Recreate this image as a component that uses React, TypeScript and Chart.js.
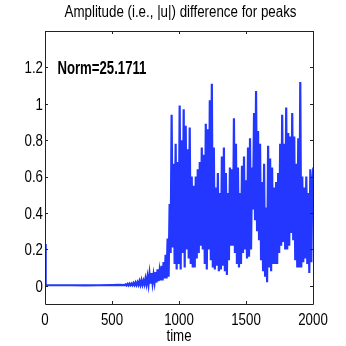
import React, { useEffect, useRef } from "react";
import { Chart, registerables } from "chart.js";

Chart.register(...registerables);

const TITLE = "Amplitude (i.e., |u|) difference for peaks";
const X_LABEL = "time";
const NORM_TEXT = "Norm=25.1711";
const NORM_AT = { x: 100, y: 1.2 };

const xTicks = [0, 500, 1000, 1500, 2000];
const yTicks = [0, 0.2, 0.4, 0.6, 0.8, 1, 1.2];
const xRange = [0, 2000];
const yRange = [-0.1, 1.4];

// quiet start of the run (time, value)
const leadTimes = [0, 5, 100, 200, 300, 400, 500, 550, 592.5];
const leadValues = [0.23, 0.003, 0.003, 0.003, 0.002, 0.003, 0.004, 0.005, 0.004];

// sampled part: starts at t = 600, every 7.5 time units
const sampleStart = 600;
const sampleStep = 7.5;
const sampleValues = [
  // 600 - 892.5 : slow growth
  0.008, 0.002, 0.01, 0.002, 0.012, 0.003, 0.012, 0.003, 0.015, 0.004,
  0.018, 0.004, 0.02, 0.005, 0.025, 0.005, 0.03, 0.006, 0.028, 0.008,
  0.04, 0.01, 0.05, 0.008, 0.065, 0.012, 0.07, 0.015, 0.06, 0.02,
  0.075, 0.018, 0.09, 0.025, 0.08, 0.03, 0.11, 0.03, 0.13, 0.04,
  // 900 onwards : strong oscillation
  0.17, 0.04, 0.26, 0.05, 0.45, 0.18, 0.94, 0.21, 0.67, 0.12,
  0.78, 0.09, 0.68, 0.12, 0.99, 0.09, 0.8, 0.18, 0.97, 0.1,
  0.88, 0.2, 0.75, 0.15, 0.87, 0.12, 0.6, 0.1, 0.55, 0.1,
  0.6, 0.15, 0.64, 0.18, 0.68, 0.22, 0.76, 0.2, 0.72, 0.12,
  0.89, 0.09, 0.86, 0.2, 1.02, 0.14, 1.11, 0.1, 0.76, 0.09,
  0.54, 0.11, 0.62, 0.08, 0.51, 0.09, 0.71, 0.11, 0.76, 0.08,
  0.62, 0.06, 0.51, 0.14, 0.65, 0.22, 0.64, 0.22, 0.92, 0.18,
  0.78, 0.12, 0.65, 0.1, 0.51, 0.12, 0.66, 0.18, 0.71, 0.2,
  0.58, 0.15, 0.76, 0.16, 0.81, 0.2, 0.65, 0.42, 0.95, 0.36,
  1.07, 0.3, 0.85, 0.25, 0.78, 0.14, 0.57, 0.08, 0.67, 0.05,
  0.43, 0.02, 0.77, 0.1, 0.7, 0.08, 0.65, 0.12, 0.54, 0.12,
  0.57, 0.12, 0.62, 0.18, 0.78, 0.22, 0.94, 0.24, 0.78, 0.2,
  0.98, 0.2, 0.84, 0.22, 0.82, 0.29, 0.95, 0.25, 0.82, 0.14,
  0.67, 0.1, 0.81, 0.1, 1.12, 0.1, 0.6, 0.13, 0.54, 0.15,
  0.6, 0.12, 0.51, 0.07, 0.64, 0.13, 0.57, 0.65,
];

const FONT = "'Liberation Sans', Arial, sans-serif";
const LINE_COLOR = "rgb(35, 55, 255)";
const NARROW = 0.83;

function narrowText(
  ctx: CanvasRenderingContext2D,
  text: string,
  x: number,
  y: number,
  align: CanvasTextAlign,
  baseline: CanvasTextBaseline,
  font: string,
  sx: number
) {
  ctx.save();
  ctx.font = font;
  ctx.textAlign = align;
  ctx.textBaseline = baseline;
  ctx.translate(x, y);
  ctx.scale(sx, 1);
  ctx.fillText(text, 0, 0);
  ctx.restore();
}

const boxPlugin = {
  id: "matlabBox",
  afterDraw(chart: any) {
    const { ctx, chartArea } = chart;
    const { left, right, top, bottom } = chartArea;
    const xs = chart.scales.x;
    const ys = chart.scales.y;
    ctx.save();
    ctx.strokeStyle = "#222";
    ctx.lineWidth = 1;
    ctx.beginPath();
    ctx.rect(Math.round(left) + 0.5, Math.round(top) + 0.5, Math.round(right - left), Math.round(bottom - top));
    const len = 3;
    xTicks.forEach((v) => {
      const px = Math.round(xs.getPixelForValue(v)) + 0.5;
      ctx.moveTo(px, bottom);
      ctx.lineTo(px, bottom - len);
      ctx.moveTo(px, top);
      ctx.lineTo(px, top + len);
    });
    yTicks.forEach((v) => {
      const py = Math.round(ys.getPixelForValue(v)) + 0.5;
      ctx.moveTo(left, py);
      ctx.lineTo(left + len, py);
      ctx.moveTo(right, py);
      ctx.lineTo(right - len, py);
    });
    ctx.stroke();
    ctx.fillStyle = "#000";

    const f16 = `16px ${FONT}`;
    xTicks.forEach((v) => {
      narrowText(ctx, String(v), xs.getPixelForValue(v), 325, "center", "alphabetic", f16, NARROW);
    });
    yTicks.forEach((v) => {
      narrowText(ctx, String(v), 43, ys.getPixelForValue(v) + 5.8, "right", "alphabetic", f16, NARROW);
    });

    // title, scaled to its measured width
    ctx.font = f16;
    const tw = ctx.measureText(TITLE).width;
    narrowText(ctx, TITLE, 180.5, 17, "center", "alphabetic", f16, 232 / tw);
    narrowText(ctx, X_LABEL, (left + right) / 2, 341, "center", "alphabetic", f16, NARROW);

    const fb = `bold 18px ${FONT}`;
    ctx.font = fb;
    const nw = ctx.measureText(NORM_TEXT).width;
    narrowText(
      ctx,
      NORM_TEXT,
      xs.getPixelForValue(NORM_AT.x) - 1,
      ys.getPixelForValue(NORM_AT.y) + 7,
      "left",
      "alphabetic",
      fb,
      89 / nw
    );
    ctx.restore();
  },
};

export default function App() {
  const ref = useRef<HTMLCanvasElement>(null);
  useEffect(() => {
    if (!ref.current) return;
    const points: { x: number; y: number }[] = [];
    leadTimes.forEach((t, i) => points.push({ x: t, y: leadValues[i] }));
    sampleValues.forEach((v, i) => points.push({ x: sampleStart + i * sampleStep, y: v }));
    const chart = new Chart(ref.current, {
      type: "line",
      data: {
        datasets: [
          {
            data: points,
            borderColor: LINE_COLOR,
            borderWidth: 2.2,
            pointRadius: 0,
            fill: false,
            tension: 0,
          },
        ],
      },
      options: {
        responsive: false,
        animation: false,
        devicePixelRatio: 1,
        parsing: false as any,
        layout: { padding: { left: 0, right: 33, top: 31, bottom: 0 } },
        plugins: {
          legend: { display: false },
          tooltip: { enabled: false },
          title: { display: false },
        },
        scales: {
          x: {
            type: "linear",
            min: xRange[0],
            max: xRange[1],
            grid: { display: false, drawTicks: false },
            border: { display: false },
            ticks: { display: false },
            afterFit: (s: any) => {
              s.height = 42;
            },
          },
          y: {
            type: "linear",
            min: yRange[0],
            max: yRange[1],
            grid: { display: false, drawTicks: false },
            border: { display: false },
            ticks: { display: false },
            afterFit: (s: any) => {
              s.width = 45;
            },
          },
        },
      },
      plugins: [boxPlugin],
    });
    return () => chart.destroy();
  }, []);
  return (
    <div style={{ position: "absolute", left: 0, top: 0, width: 346, height: 346, background: "#fff" }}>
      <canvas ref={ref} width={346} height={346} />
    </div>
  );
}
